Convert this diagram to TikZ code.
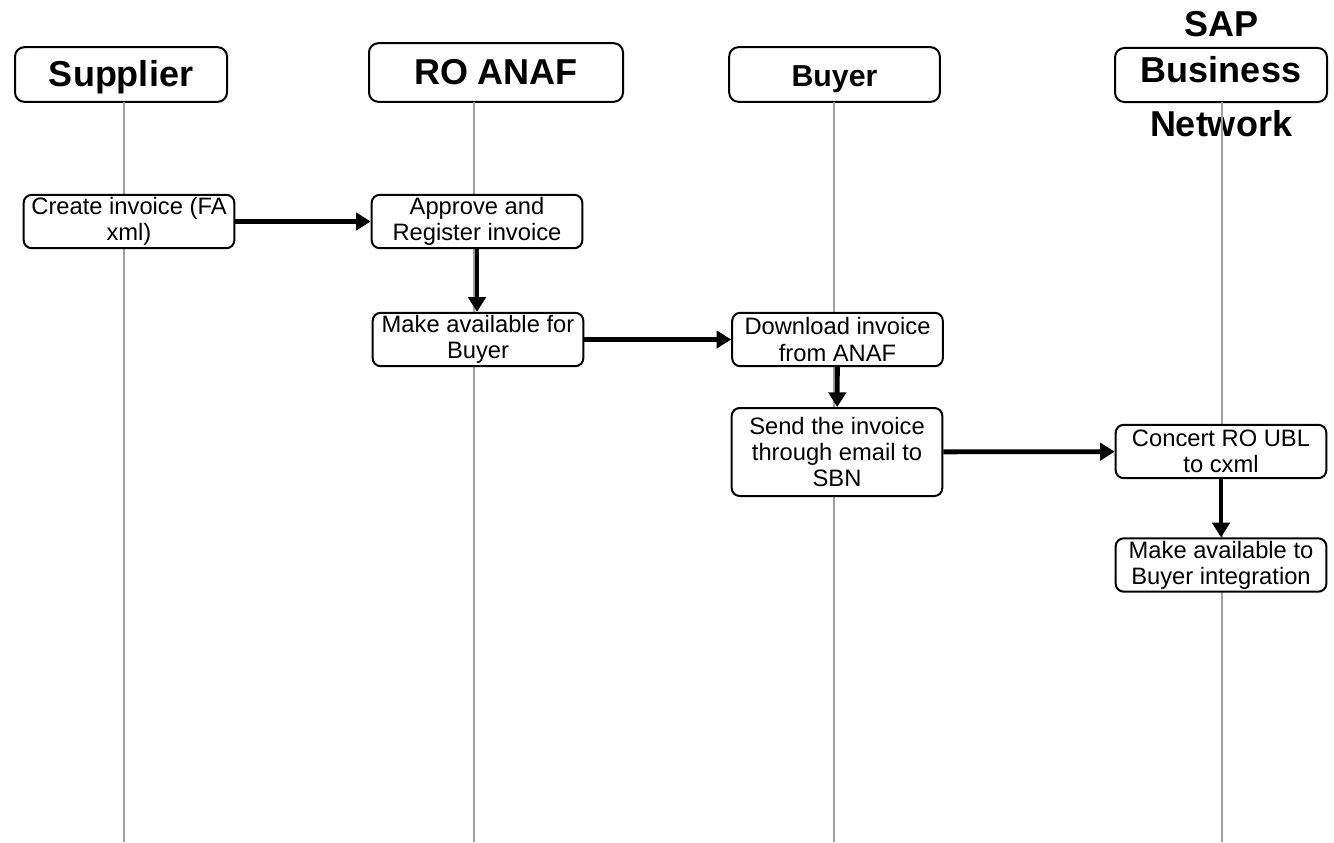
\documentclass[tikz,border=0pt]{standalone}
\usepackage{fontspec}
\setmainfont{Liberation Sans}
\usetikzlibrary{arrows.meta}

\tikzset{
  lane/.style={draw, line width=1.5pt, rounded corners=7pt, fill=white,
    minimum height=41pt, text height=19pt, text depth=1pt,
    font=\fontsize{27}{30}\selectfont\bfseries},
  lanetext/.style={anchor=base, inner sep=0pt,
    font=\fontsize{27}{30}\selectfont\bfseries},
  task/.style={draw, line width=1.5pt, rounded corners=6pt, fill=white,
    minimum width=158pt, minimum height=40pt, inner sep=1pt, align=center,
    font=\fontsize{17.8}{19.7}\selectfont},
  flow/.style={line width=3.6pt, -{Triangle[length=11pt,width=13pt]}},
  lifeline/.style={line width=1.1pt, gray!75}
}

\begin{document}
\begin{tikzpicture}[x=0.75pt, y=-0.75pt]
  \useasboundingbox (0,0) rectangle (1334,842);

  % Lanes
  \node[lane, minimum width=159pt] (supplier) at (121,74.5) {Supplier};
  \node[lane, minimum width=190.5pt, minimum height=44pt] (roanaf) at (496,72.5) {RO ANAF};
  \node[lane, minimum width=158pt, font=\fontsize{22.7}{26}\selectfont\bfseries] (buyer) at (834.5,74.5) {Buyer};
  \node[lane, minimum width=159pt, minimum height=40.5pt, text depth=7pt] (sbn) at (1221,75) {Business};
  \node[lanetext] (sbnTop) at (1221,37) {SAP};
  \node[lanetext] (sbnBot) at (1221,136) {Network};

  % Lifelines
  \coordinate (supTop) at (124,102);  \coordinate (supEnd) at (124,842);
  \coordinate (anafTop) at (474,102); \coordinate (anafEnd) at (474,842);
  \coordinate (buyTop) at (834,102);  \coordinate (buyEnd) at (834,842);
  \coordinate (sbnTopL) at (1222,102); \coordinate (sbnEnd) at (1222,842);
  \draw[lifeline] (supTop) -- (supEnd);
  \draw[lifeline] (anafTop) -- (anafEnd);
  \draw[lifeline] (buyTop) -- (buyEnd);
  \draw[lifeline] (sbnTopL) -- (sbnEnd);

  % Steps
  \node[task] (create) at (129,221.5) {Create invoice (FA\\xml)};
  \node[task] (approve) at (477,221.5) {Approve and\\Register invoice};
  \node[task] (avail) at (478,339.5) {Make available for\\Buyer};
  \node[task] (download) at (837.5,339.5) {Download invoice\\from ANAF};
  \node[task, minimum height=66pt] (send) at (837,452) {Send the invoice\\through email to\\SBN};
  \node[task] (convert) at (1221,451.5) {Concert RO UBL\\to cxml};
  \node[task] (integr) at (1221,565) {Make available to\\Buyer integration};

  % Flow
  \draw[flow] (create) -- (approve);
  \draw[flow] (approve.south) -- (approve.south |- avail.north);
  \draw[flow] (avail) -- (download);
  \draw[flow] (download) -- (send);
  \draw[flow] (send) -- (convert);
  \draw[flow] (convert) -- (integr);

\end{tikzpicture}
\end{document}
